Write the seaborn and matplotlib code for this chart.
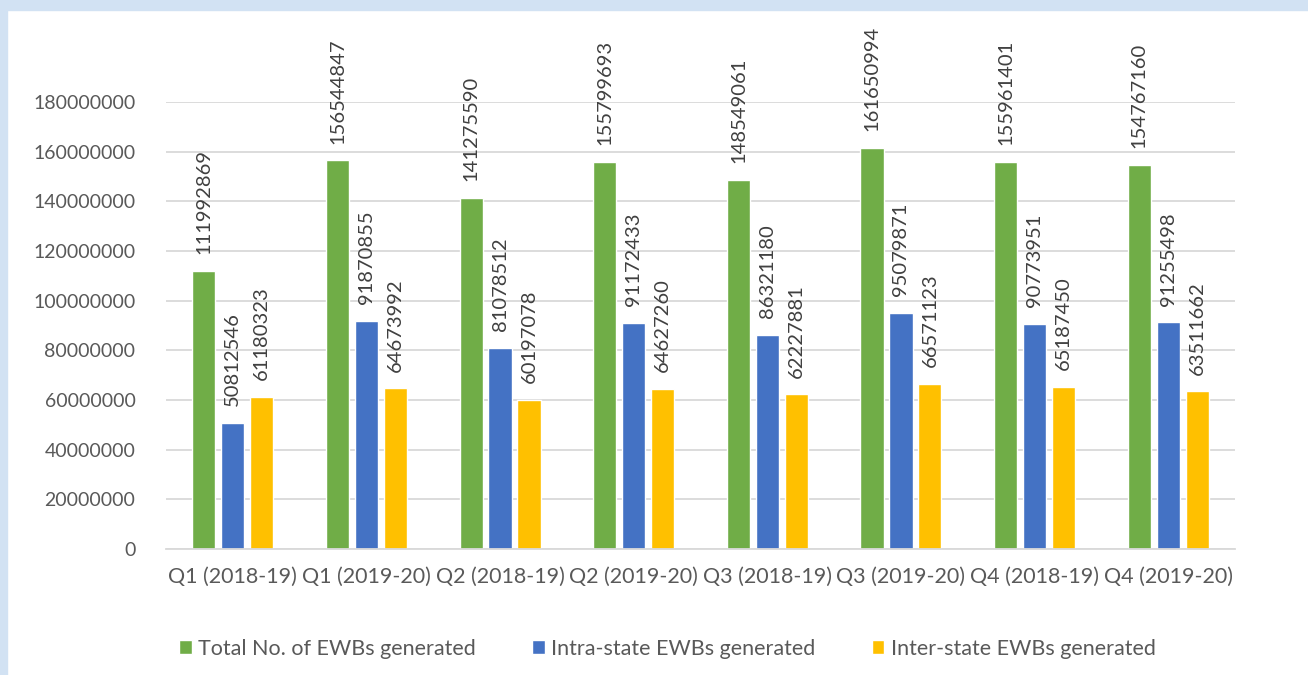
import pandas as pd
import matplotlib.pyplot as plt
import seaborn as sns
from matplotlib.patches import Rectangle

quarters = [
    "Q1 (2018-19)", "Q1 (2019-20)", "Q2 (2018-19)", "Q2 (2019-20)",
    "Q3 (2018-19)", "Q3 (2019-20)", "Q4 (2018-19)", "Q4 (2019-20)",
]
total_ewbs = [111992869, 156544847, 141275590, 155799693,
              148549061, 161650994, 155961401, 154767160]
intra_ewbs = [50812546, 91870855, 81078512, 91172433,
              86321180, 95079871, 90773951, 91255498]
inter_ewbs = [61180323, 64673992, 60197078, 64627260,
              62227881, 66571123, 65187450, 63511662]
series_names = ["Total No. of EWBs generated",
                "Intra-state EWBs generated",
                "Inter-state EWBs generated"]
colors = ["#70AD47", "#4472C4", "#FFC000"]

df = pd.DataFrame({
    "quarter": quarters * 3,
    "series": [s for s in series_names for _ in quarters],
    "value": total_ewbs + intra_ewbs + inter_ewbs,
})

sns.set_style("white")
plt.rcParams["font.family"] = ["Lato", "DejaVu Sans"]
text_color = "#595959"

fig = plt.figure(figsize=(13.08, 6.75), dpi=100)
fig.patches.append(Rectangle((0, 1 - 10 / 675), 1, 10 / 675,
                             transform=fig.transFigure,
                             color="#d2e2f3", zorder=0))
fig.patches.append(Rectangle((0, 0), 7 / 1308, 1,
                             transform=fig.transFigure,
                             color="#d2e2f3", zorder=0))

ax = fig.add_axes([166 / 1308, 1 - 549 / 675, (1235 - 166) / 1308, (549 - 102) / 675])

sns.barplot(
    data=df, x="quarter", y="value", hue="series",
    palette=colors, saturation=1, width=0.65, gap=0.2, ax=ax, legend=True,
)

for container in ax.containers:
    ax.bar_label(container, labels=[f"{int(v)}" for v in container.datavalues],
                 rotation=90, padding=12, fontsize=14.5, color="#404040",
                 clip_on=False)

ax.set_ylim(0, 180000000)
ax.set_yticks(range(0, 180000001, 20000000))
ax.set_yticklabels([str(v) for v in range(0, 180000001, 20000000)])
ax.set_xlim(-0.5, len(quarters) - 0.5)
ax.yaxis.grid(True, color="#d9d9d9", linewidth=1.3)
ax.set_axisbelow(True)
for side in ["top", "right", "left"]:
    ax.spines[side].set_visible(False)
ax.spines["bottom"].set_color("#d9d9d9")
ax.spines["bottom"].set_linewidth(1.3)
ax.tick_params(axis="both", length=0, colors=text_color)
ax.tick_params(axis="y", labelsize=14, pad=22)
ax.tick_params(axis="x", labelsize=15.5, pad=13)
ax.set_xlabel("")
ax.set_ylabel("")

handles, labels = ax.get_legend_handles_labels()
ax.legend(
    handles, labels, loc="upper center", bbox_to_anchor=(0.469, -0.157),
    ncol=3, frameon=False, fontsize=15.5, labelcolor=text_color,
    handlelength=0.6, handleheight=0.6, handletextpad=0.3, columnspacing=2.6,
)

fig.savefig("out.png", dpi=100)
